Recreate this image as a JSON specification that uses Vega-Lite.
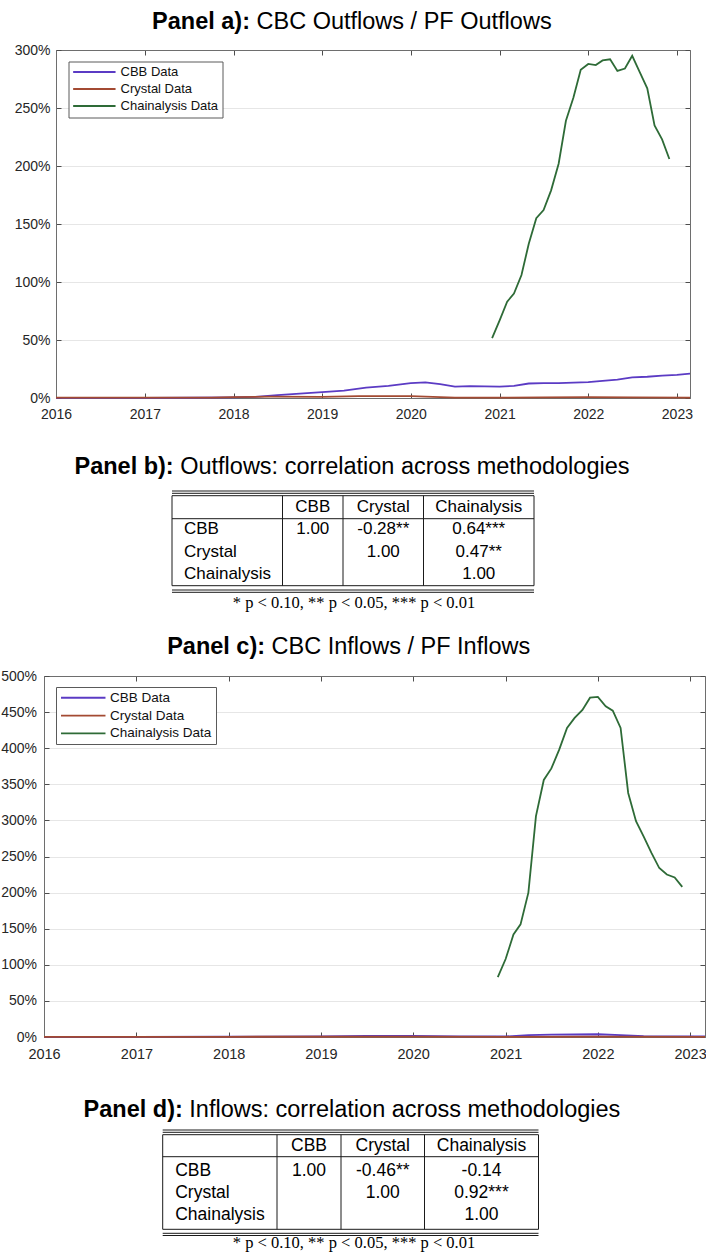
{
  "$schema": "https://vega.github.io/schema/vega-lite/v6.json",
  "padding": 0,
  "background": "white",
  "spacing": 0,
  "bounds": "flush",
  "resolve": {"scale": {"color": "independent"}, "legend": {"color": "independent"}},
  "config": {
    "view": {"stroke": null},
    "font": "Liberation Sans",
    "text": {"font": "Liberation Sans", "color": "#000000", "baseline": "middle"},
    "axis": {"labelFont": "Liberation Sans", "labelColor": "#262626", "domain": true, "domainColor": "#6e6e6e", "domainWidth": 1, "tickColor": "#4d4d4d", "gridColor": "#e6e6e6", "title": null, "labelFlush": false, "labelOverlap": false}
  },
  "datasets": {
    "titles": [
      {"panel": "a", "slot": 0, "bold": "Panel a):", "caption": "CBC Outflows / PF Outflows"},
      {"panel": "b", "slot": 0, "bold": "Panel b):", "caption": "Outflows: correlation across methodologies"},
      {"panel": "c", "slot": 13, "bold": "Panel c):", "caption": "CBC Inflows / PF Inflows"},
      {"panel": "d", "slot": 0, "bold": "Panel d):", "caption": "Inflows: correlation across methodologies"}
    ],
    "footnotes": [
      {"panel": "b", "slot": 12, "note": "* p < 0.10, ** p < 0.05, *** p < 0.01"},
      {"panel": "d", "slot": 12, "note": "* p < 0.10, ** p < 0.05, *** p < 0.01"}
    ],
    "ruling": [
      {"dir": "h", "from": 0, "to": 4, "slot": 1},
      {"dir": "h", "from": 0, "to": 4, "slot": 2},
      {"dir": "h", "from": 0, "to": 4, "slot": 3},
      {"dir": "h", "from": 0, "to": 4, "slot": 5},
      {"dir": "h", "from": 0, "to": 4, "slot": 9},
      {"dir": "h", "from": 0, "to": 4, "slot": 10},
      {"dir": "h", "from": 0, "to": 4, "slot": 11},
      {"dir": "v", "from": 0, "slot": 3, "slot2": 9},
      {"dir": "v", "from": 1, "slot": 3, "slot2": 9},
      {"dir": "v", "from": 2, "slot": 3, "slot2": 9},
      {"dir": "v", "from": 3, "slot": 3, "slot2": 9},
      {"dir": "v", "from": 4, "slot": 3, "slot2": 9}
    ],
    "outflowTable": [
      {"slot": 4, "col": 1.5, "text": "CBB"},
      {"slot": 4, "col": 2.5, "text": "Crystal"},
      {"slot": 4, "col": 3.5, "text": "Chainalysis"},
      {"slot": 6, "col": 0, "text": "CBB"},
      {"slot": 7, "col": 0, "text": "Crystal"},
      {"slot": 8, "col": 0, "text": "Chainalysis"},
      {"slot": 6, "col": 1.5, "text": "1.00"},
      {"slot": 6, "col": 2.5, "text": "-0.28**"},
      {"slot": 6, "col": 3.5, "text": "0.64***"},
      {"slot": 7, "col": 2.5, "text": "1.00"},
      {"slot": 7, "col": 3.5, "text": "0.47**"},
      {"slot": 8, "col": 3.5, "text": "1.00"}
    ],
    "inflowTable": [
      {"slot": 4, "col": 1.5, "text": "CBB"},
      {"slot": 4, "col": 2.5, "text": "Crystal"},
      {"slot": 4, "col": 3.5, "text": "Chainalysis"},
      {"slot": 6, "col": 0, "text": "CBB"},
      {"slot": 7, "col": 0, "text": "Crystal"},
      {"slot": 8, "col": 0, "text": "Chainalysis"},
      {"slot": 6, "col": 1.5, "text": "1.00"},
      {"slot": 6, "col": 2.5, "text": "-0.46**"},
      {"slot": 6, "col": 3.5, "text": "-0.14"},
      {"slot": 7, "col": 2.5, "text": "1.00"},
      {"slot": 7, "col": 3.5, "text": "0.92***"},
      {"slot": 8, "col": 3.5, "text": "1.00"}
    ],
    "outflows": [
      {"series": "CBB Data", "date": "2016-01-01", "pct": 0.1},
      {"series": "CBB Data", "date": "2016-07-01", "pct": 0.1},
      {"series": "CBB Data", "date": "2017-01-01", "pct": 0.1},
      {"series": "CBB Data", "date": "2017-07-01", "pct": 0.2},
      {"series": "CBB Data", "date": "2018-01-01", "pct": 0.5},
      {"series": "CBB Data", "date": "2018-04-01", "pct": 1.0},
      {"series": "CBB Data", "date": "2018-07-01", "pct": 2.5},
      {"series": "CBB Data", "date": "2018-10-01", "pct": 3.8},
      {"series": "CBB Data", "date": "2019-01-01", "pct": 5.0},
      {"series": "CBB Data", "date": "2019-04-01", "pct": 6.3},
      {"series": "CBB Data", "date": "2019-07-01", "pct": 9.0},
      {"series": "CBB Data", "date": "2019-10-01", "pct": 10.5},
      {"series": "CBB Data", "date": "2020-01-01", "pct": 12.8},
      {"series": "CBB Data", "date": "2020-03-01", "pct": 13.5},
      {"series": "CBB Data", "date": "2020-05-01", "pct": 12.0},
      {"series": "CBB Data", "date": "2020-07-01", "pct": 9.8},
      {"series": "CBB Data", "date": "2020-09-01", "pct": 10.3},
      {"series": "CBB Data", "date": "2020-11-01", "pct": 10.0},
      {"series": "CBB Data", "date": "2021-01-01", "pct": 9.8},
      {"series": "CBB Data", "date": "2021-03-01", "pct": 10.5},
      {"series": "CBB Data", "date": "2021-05-01", "pct": 12.5},
      {"series": "CBB Data", "date": "2021-07-01", "pct": 12.8},
      {"series": "CBB Data", "date": "2021-09-01", "pct": 12.9},
      {"series": "CBB Data", "date": "2021-11-01", "pct": 13.2},
      {"series": "CBB Data", "date": "2022-01-01", "pct": 13.6},
      {"series": "CBB Data", "date": "2022-03-01", "pct": 14.8},
      {"series": "CBB Data", "date": "2022-05-01", "pct": 15.8},
      {"series": "CBB Data", "date": "2022-07-01", "pct": 17.8},
      {"series": "CBB Data", "date": "2022-09-01", "pct": 18.3},
      {"series": "CBB Data", "date": "2022-11-01", "pct": 19.3},
      {"series": "CBB Data", "date": "2023-01-01", "pct": 20.0},
      {"series": "CBB Data", "date": "2023-02-24", "pct": 21.0},
      {"series": "Crystal Data", "date": "2016-01-01", "pct": 0.3},
      {"series": "Crystal Data", "date": "2017-01-01", "pct": 0.3},
      {"series": "Crystal Data", "date": "2017-10-01", "pct": 0.4},
      {"series": "Crystal Data", "date": "2018-01-01", "pct": 0.7},
      {"series": "Crystal Data", "date": "2018-06-01", "pct": 1.2},
      {"series": "Crystal Data", "date": "2019-01-01", "pct": 1.0},
      {"series": "Crystal Data", "date": "2019-06-01", "pct": 1.7},
      {"series": "Crystal Data", "date": "2020-01-01", "pct": 1.7},
      {"series": "Crystal Data", "date": "2020-04-01", "pct": 1.0},
      {"series": "Crystal Data", "date": "2020-07-01", "pct": 0.3},
      {"series": "Crystal Data", "date": "2021-01-01", "pct": 0.3},
      {"series": "Crystal Data", "date": "2021-07-01", "pct": 0.5},
      {"series": "Crystal Data", "date": "2022-01-01", "pct": 0.8},
      {"series": "Crystal Data", "date": "2022-07-01", "pct": 0.5},
      {"series": "Crystal Data", "date": "2023-02-24", "pct": 0.3},
      {"series": "Chainalysis Data", "date": "2020-12-01", "pct": 51.6},
      {"series": "Chainalysis Data", "date": "2021-01-01", "pct": 67},
      {"series": "Chainalysis Data", "date": "2021-02-01", "pct": 83},
      {"series": "Chainalysis Data", "date": "2021-03-01", "pct": 90},
      {"series": "Chainalysis Data", "date": "2021-04-01", "pct": 106},
      {"series": "Chainalysis Data", "date": "2021-05-01", "pct": 133},
      {"series": "Chainalysis Data", "date": "2021-06-01", "pct": 155},
      {"series": "Chainalysis Data", "date": "2021-07-01", "pct": 162},
      {"series": "Chainalysis Data", "date": "2021-08-01", "pct": 179},
      {"series": "Chainalysis Data", "date": "2021-09-01", "pct": 202},
      {"series": "Chainalysis Data", "date": "2021-10-01", "pct": 239},
      {"series": "Chainalysis Data", "date": "2021-11-01", "pct": 259},
      {"series": "Chainalysis Data", "date": "2021-12-01", "pct": 283},
      {"series": "Chainalysis Data", "date": "2022-01-01", "pct": 288},
      {"series": "Chainalysis Data", "date": "2022-02-01", "pct": 287},
      {"series": "Chainalysis Data", "date": "2022-03-01", "pct": 291},
      {"series": "Chainalysis Data", "date": "2022-04-01", "pct": 292},
      {"series": "Chainalysis Data", "date": "2022-05-01", "pct": 282},
      {"series": "Chainalysis Data", "date": "2022-06-01", "pct": 284},
      {"series": "Chainalysis Data", "date": "2022-07-01", "pct": 295},
      {"series": "Chainalysis Data", "date": "2022-08-01", "pct": 281},
      {"series": "Chainalysis Data", "date": "2022-09-01", "pct": 267},
      {"series": "Chainalysis Data", "date": "2022-10-01", "pct": 235},
      {"series": "Chainalysis Data", "date": "2022-11-01", "pct": 223},
      {"series": "Chainalysis Data", "date": "2022-12-01", "pct": 206}
    ],
    "inflows": [
      {"series": "CBB Data", "date": "2016-01-01", "pct": 0.2},
      {"series": "CBB Data", "date": "2017-01-01", "pct": 0.2},
      {"series": "CBB Data", "date": "2018-01-01", "pct": 0.4},
      {"series": "CBB Data", "date": "2019-01-01", "pct": 0.9},
      {"series": "CBB Data", "date": "2019-07-01", "pct": 1.6},
      {"series": "CBB Data", "date": "2020-01-01", "pct": 1.6},
      {"series": "CBB Data", "date": "2020-07-01", "pct": 0.8},
      {"series": "CBB Data", "date": "2021-01-01", "pct": 0.8},
      {"series": "CBB Data", "date": "2021-04-01", "pct": 2.5},
      {"series": "CBB Data", "date": "2021-07-01", "pct": 3.3},
      {"series": "CBB Data", "date": "2022-01-01", "pct": 3.8},
      {"series": "CBB Data", "date": "2022-04-01", "pct": 2.6},
      {"series": "CBB Data", "date": "2022-07-01", "pct": 1.3},
      {"series": "CBB Data", "date": "2023-01-01", "pct": 1.0},
      {"series": "CBB Data", "date": "2023-03-01", "pct": 1.0},
      {"series": "Crystal Data", "date": "2016-01-01", "pct": 0.3},
      {"series": "Crystal Data", "date": "2018-01-01", "pct": 0.3},
      {"series": "Crystal Data", "date": "2020-01-01", "pct": 0.4},
      {"series": "Crystal Data", "date": "2021-01-01", "pct": 0.3},
      {"series": "Crystal Data", "date": "2022-01-01", "pct": 0.6},
      {"series": "Crystal Data", "date": "2023-03-01", "pct": 0.3},
      {"series": "Chainalysis Data", "date": "2020-12-01", "pct": 83},
      {"series": "Chainalysis Data", "date": "2021-01-01", "pct": 108},
      {"series": "Chainalysis Data", "date": "2021-02-01", "pct": 142},
      {"series": "Chainalysis Data", "date": "2021-03-01", "pct": 156},
      {"series": "Chainalysis Data", "date": "2021-04-01", "pct": 200},
      {"series": "Chainalysis Data", "date": "2021-05-01", "pct": 306},
      {"series": "Chainalysis Data", "date": "2021-06-01", "pct": 356},
      {"series": "Chainalysis Data", "date": "2021-07-01", "pct": 372},
      {"series": "Chainalysis Data", "date": "2021-08-01", "pct": 398},
      {"series": "Chainalysis Data", "date": "2021-09-01", "pct": 428},
      {"series": "Chainalysis Data", "date": "2021-10-01", "pct": 442},
      {"series": "Chainalysis Data", "date": "2021-11-01", "pct": 453},
      {"series": "Chainalysis Data", "date": "2021-12-01", "pct": 470},
      {"series": "Chainalysis Data", "date": "2022-01-01", "pct": 471},
      {"series": "Chainalysis Data", "date": "2022-02-01", "pct": 458},
      {"series": "Chainalysis Data", "date": "2022-03-01", "pct": 452},
      {"series": "Chainalysis Data", "date": "2022-04-01", "pct": 428},
      {"series": "Chainalysis Data", "date": "2022-05-01", "pct": 338},
      {"series": "Chainalysis Data", "date": "2022-06-01", "pct": 299},
      {"series": "Chainalysis Data", "date": "2022-07-01", "pct": 278},
      {"series": "Chainalysis Data", "date": "2022-08-01", "pct": 255},
      {"series": "Chainalysis Data", "date": "2022-09-01", "pct": 234},
      {"series": "Chainalysis Data", "date": "2022-10-01", "pct": 225},
      {"series": "Chainalysis Data", "date": "2022-11-01", "pct": 221},
      {"series": "Chainalysis Data", "date": "2022-12-01", "pct": 208}
    ]
  },
  "vconcat": [
    {
      "width": 706,
      "height": 50,
      "data": {"name": "titles"},
      "transform": [{"filter": "datum.panel === 'a'"}],
      "encoding": {
        "y": {"field": "slot", "type": "quantitative", "scale": {"domain": [0, 1], "range": [22, 50], "nice": false, "zero": false}, "axis": null}
      },
      "layer": [
        {"mark": {"type": "text", "fontWeight": "bold", "fontSize": 23.5, "align": "right", "dx": -104}, "encoding": {"text": {"field": "bold"}}},
        {"mark": {"type": "text", "fontSize": 23.5, "align": "left", "dx": -97.5}, "encoding": {"text": {"field": "caption"}}}
      ]
    },
    {
      "width": 689,
      "height": 348,
      "data": {"name": "outflows"},
      "layer": [
        {
          "mark": {"type": "line", "strokeWidth": 1.8},
          "encoding": {
            "x": {"field": "date", "type": "temporal",
              "scale": {"type": "utc", "domain": [{"year": 2016, "month": 1, "date": 1, "utc": true}, {"year": 2023, "month": 2, "date": 24, "utc": true}], "range": [55, 689], "nice": false},
              "axis": {"orient": "bottom", "format": "%Y", "tickCount": {"interval": "year", "step": 1}, "tickSize": -5, "labelPadding": 14, "labelFontSize": 14, "grid": false}},
            "y": {"field": "pct", "type": "quantitative",
              "scale": {"domain": [0, 300], "nice": false},
              "axis": {"orient": "left", "offset": -55, "values": [0, 50, 100, 150, 200, 250, 300], "labelExpr": "datum.label + '%'", "grid": true, "tickSize": -5, "labelPadding": 11, "labelFontSize": 14}},
            "color": {"field": "series", "type": "nominal",
              "scale": {"domain": ["CBB Data", "Crystal Data", "Chainalysis Data"], "range": ["#5b3bc4", "#a34a32", "#2e6b37"]},
              "legend": {"orient": "none", "legendX": 67.5, "legendY": 11.5, "title": null, "strokeColor": "#5a5a5a", "fillColor": "white", "padding": 4, "symbolType": "M-5.3,0H5.3", "symbolSize": 64, "symbolStrokeWidth": 1.8, "symbolOffset": 15.35, "labelFont": "Liberation Sans", "labelFontSize": 13, "labelColor": "#111111", "labelOffset": 19.7, "rowPadding": 3}}
          }
        },
        {
          "mark": {"type": "line", "opacity": 0},
          "encoding": {
            "x": {"field": "date", "type": "temporal", "axis": {"orient": "top", "labels": false, "grid": false, "tickSize": -5, "tickCount": {"interval": "year", "step": 1}}},
            "y": {"field": "pct", "type": "quantitative", "axis": {"orient": "right", "labels": false, "grid": false, "tickSize": -5, "values": [0, 50, 100, 150, 200, 250, 300]}},
            "detail": {"field": "series"}
          }
        }
      ],
      "resolve": {"axis": {"x": "independent", "y": "independent"}}
    },
    {
      "width": 706,
      "height": 278,
      "encoding": {
        "y": {"field": "slot", "type": "quantitative", "scale": {"domain": [0, 1, 2, 3, 4, 5, 6, 7, 8, 9, 10, 11, 12, 13], "range": [69, 93, 95.3, 97.7, 109, 120.7, 131.3, 153.5, 175.5, 187.7, 192, 194.3, 204.7, 249], "nice": false, "zero": false}, "axis": null}
      },
      "layer": [
        {"data": {"name": "titles"}, "transform": [{"filter": "datum.panel === 'b'"}], "mark": {"type": "text", "fontWeight": "bold", "fontSize": 23.5, "align": "right", "dx": -180.3}, "encoding": {"text": {"field": "bold"}}},
        {"data": {"name": "titles"}, "transform": [{"filter": "datum.panel === 'b'"}], "mark": {"type": "text", "fontSize": 23.5, "align": "left", "dx": -173.8}, "encoding": {"text": {"field": "caption"}}},
        {"data": {"name": "titles"}, "transform": [{"filter": "datum.panel === 'c'"}], "mark": {"type": "text", "fontWeight": "bold", "fontSize": 23.5, "align": "right", "dx": -88.9}, "encoding": {"text": {"field": "bold"}}},
        {"data": {"name": "titles"}, "transform": [{"filter": "datum.panel === 'c'"}], "mark": {"type": "text", "fontSize": 23.5, "align": "left", "dx": -82.4}, "encoding": {"text": {"field": "caption"}}},
        {"data": {"name": "ruling"}, "transform": [{"filter": "datum.dir === 'h'"}], "mark": {"type": "rule", "color": "#1a1a1a", "strokeWidth": 1},
          "encoding": {"x": {"field": "from", "type": "quantitative", "scale": {"domain": [0, 1, 2, 3, 4], "range": [171, 281.5, 342, 422.5, 533], "nice": false, "zero": false}, "axis": null}, "x2": {"field": "to"}}},
        {"data": {"name": "ruling"}, "transform": [{"filter": "datum.dir === 'v'"}], "mark": {"type": "rule", "color": "#1a1a1a", "strokeWidth": 1},
          "encoding": {"x": {"field": "from", "type": "quantitative", "axis": null}, "y2": {"field": "slot2"}}},
        {"data": {"name": "outflowTable"}, "transform": [{"filter": "datum.col === 0"}], "mark": {"type": "text", "fontSize": 17, "align": "left", "dx": 12},
          "encoding": {"x": {"field": "col", "type": "quantitative", "axis": null}, "text": {"field": "text"}}},
        {"data": {"name": "outflowTable"}, "transform": [{"filter": "datum.col > 0"}], "mark": {"type": "text", "fontSize": 17, "align": "center"},
          "encoding": {"x": {"field": "col", "type": "quantitative", "axis": null}, "text": {"field": "text"}}},
        {"data": {"name": "footnotes"}, "transform": [{"filter": "datum.panel === 'b'"}], "mark": {"type": "text", "font": "Liberation Serif", "fontSize": 16.5, "align": "center"}, "encoding": {"text": {"field": "note"}}}
      ]
    },
    {
      "width": 704,
      "height": 361,
      "data": {"name": "inflows"},
      "layer": [
        {
          "mark": {"type": "line", "strokeWidth": 1.8},
          "encoding": {
            "x": {"field": "date", "type": "temporal",
              "scale": {"type": "utc", "domain": [{"year": 2016, "month": 1, "date": 1, "utc": true}, {"year": 2023, "month": 3, "date": 1, "utc": true}], "range": [43, 704], "nice": false},
              "axis": {"orient": "bottom", "format": "%Y", "tickCount": {"interval": "year", "step": 1}, "tickSize": -5, "labelPadding": 15, "labelFontSize": 14.5, "grid": false}},
            "y": {"field": "pct", "type": "quantitative",
              "scale": {"domain": [0, 500], "nice": false},
              "axis": {"orient": "left", "offset": -43, "values": [0, 50, 100, 150, 200, 250, 300, 350, 400, 450, 500], "labelExpr": "datum.label + '%'", "grid": true, "tickSize": -5, "labelPadding": 12.5, "labelFontSize": 14}},
            "color": {"field": "series", "type": "nominal",
              "scale": {"domain": ["CBB Data", "Crystal Data", "Chainalysis Data"], "range": ["#5b3bc4", "#a34a32", "#2e6b37"]},
              "legend": {"orient": "none", "legendX": 55, "legendY": 11, "title": null, "strokeColor": "#5a5a5a", "fillColor": "white", "padding": 4, "symbolType": "M-5.56,0H5.56", "symbolSize": 64, "symbolStrokeWidth": 1.8, "symbolOffset": 16.5, "labelFont": "Liberation Sans", "labelFontSize": 13.5, "labelColor": "#111111", "labelOffset": 20, "rowPadding": 2.8}}
          }
        },
        {
          "mark": {"type": "line", "opacity": 0},
          "encoding": {
            "x": {"field": "date", "type": "temporal", "axis": {"orient": "top", "labels": false, "grid": false, "tickSize": -5, "tickCount": {"interval": "year", "step": 1}}},
            "y": {"field": "pct", "type": "quantitative", "axis": {"orient": "right", "labels": false, "grid": false, "tickSize": -5, "values": [0, 50, 100, 150, 200, 250, 300, 350, 400, 450, 500]}},
            "detail": {"field": "series"}
          }
        }
      ],
      "resolve": {"axis": {"x": "independent", "y": "independent"}}
    },
    {
      "width": 706,
      "height": 216,
      "encoding": {
        "y": {"field": "slot", "type": "quantitative", "scale": {"domain": [0, 1, 2, 3, 4, 5, 6, 7, 8, 9, 10, 11, 12], "range": [73, 93, 95.3, 97.7, 108.7, 119.7, 133.7, 155.7, 178, 192.3, 196.3, 198.5, 205.7], "nice": false, "zero": false}, "axis": null}
      },
      "layer": [
        {"data": {"name": "titles"}, "transform": [{"filter": "datum.panel === 'd'"}], "mark": {"type": "text", "fontWeight": "bold", "fontSize": 23.5, "align": "right", "dx": -171.2}, "encoding": {"text": {"field": "bold"}}},
        {"data": {"name": "titles"}, "transform": [{"filter": "datum.panel === 'd'"}], "mark": {"type": "text", "fontSize": 23.5, "align": "left", "dx": -164.7}, "encoding": {"text": {"field": "caption"}}},
        {"data": {"name": "ruling"}, "transform": [{"filter": "datum.dir === 'h'"}], "mark": {"type": "rule", "color": "#1a1a1a", "strokeWidth": 1},
          "encoding": {"x": {"field": "from", "type": "quantitative", "scale": {"domain": [0, 1, 2, 3, 4], "range": [161.7, 276, 340, 423.5, 537.5], "nice": false, "zero": false}, "axis": null}, "x2": {"field": "to"}}},
        {"data": {"name": "ruling"}, "transform": [{"filter": "datum.dir === 'v'"}], "mark": {"type": "rule", "color": "#1a1a1a", "strokeWidth": 1},
          "encoding": {"x": {"field": "from", "type": "quantitative", "axis": null}, "y2": {"field": "slot2"}}},
        {"data": {"name": "inflowTable"}, "transform": [{"filter": "datum.col === 0"}], "mark": {"type": "text", "fontSize": 17.5, "align": "left", "dx": 12.5},
          "encoding": {"x": {"field": "col", "type": "quantitative", "axis": null}, "text": {"field": "text"}}},
        {"data": {"name": "inflowTable"}, "transform": [{"filter": "datum.col > 0"}], "mark": {"type": "text", "fontSize": 17.5, "align": "center"},
          "encoding": {"x": {"field": "col", "type": "quantitative", "axis": null}, "text": {"field": "text"}}},
        {"data": {"name": "footnotes"}, "transform": [{"filter": "datum.panel === 'd'"}], "mark": {"type": "text", "font": "Liberation Serif", "fontSize": 16.5, "align": "center"}, "encoding": {"text": {"field": "note"}}}
      ]
    }
  ]
}
